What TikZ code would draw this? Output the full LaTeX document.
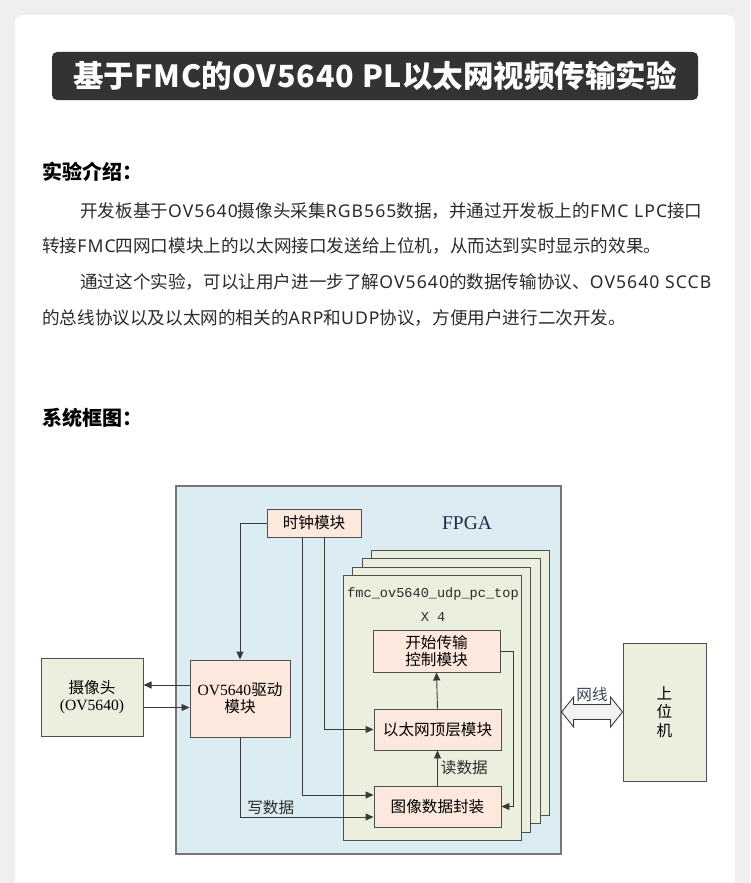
\documentclass[tikz,border=0pt]{standalone}
\usepackage{fontspec}
\setmainfont{Noto Sans CJK SC}
\newfontfamily\lat{Noto Sans}[LetterSpace=6]
\newcommand\wide[1]{{\addfontfeature{LetterSpace=3}#1}}
\newfontfamily\serifl{Liberation Serif}
\newfontfamily\monol{Liberation Mono}
\usetikzlibrary{arrows.meta,calc}

\definecolor{pagegray}{HTML}{EFEFEF}
\definecolor{barcol}{HTML}{333333}
\definecolor{textgray}{HTML}{2B2B2B}
\definecolor{fpgafill}{HTML}{DBECF3}
\definecolor{olivefill}{HTML}{EBEFDD}
\definecolor{modfill}{HTML}{FCE8DC}
\definecolor{boxline}{HTML}{4F4F4F}
\definecolor{wireline}{HTML}{3A3A3A}
\definecolor{fpgaline}{HTML}{767676}
\definecolor{navy}{HTML}{1F2B4A}

\begin{document}
\begin{tikzpicture}[x=1pt, y=-1pt,
  txt/.style={inner sep=0pt, text=textgray},
  body/.style={txt, anchor=west, font=\fontsize{17.6pt}{20pt}\selectfont},
  head/.style={txt, anchor=west, text=black, font=\bfseries\fontsize{20pt}{22pt}\selectfont},
  dfont/.style={font=\fontsize{15.6pt}{18pt}\selectfont},
  modbox/.style={draw=boxline, fill=modfill, line width=0.9pt, inner sep=0pt, align=center, dfont},
  outbox/.style={draw=boxline, fill=olivefill, line width=1pt, inner sep=0pt, align=center, dfont},
  stackbox/.style={draw=boxline, fill=olivefill, line width=1pt, minimum width=178pt, minimum height=265pt},
  conn/.style={draw=wireline, line width=0.9pt},
  arr/.style={conn, -{Triangle[length=8pt,width=7pt]}}
]
  \useasboundingbox (0,0) rectangle (750,883);
  \fill[pagegray] (0,0) rectangle (750,883);
  \fill[white, rounded corners=8pt] (15,15) rectangle (735,910);

  % title and text
  \node[fill=barcol, rounded corners=5pt, minimum width=646pt, minimum height=48pt, inner sep=0pt,
        text=white, font=\bfseries\fontsize{30.5pt}{32pt}\selectfont] (title) at (375,76)
        {基于\wide{FMC}的\wide{OV5640 PL}以太网视频传输实验};

  \node[head] (intro) at (42,172) {实验介绍：};
  \node[body] (line1) at (80,211) {开发板基于{\lat OV5640}摄像头采集{\lat RGB565}数据，并通过开发板上的{\lat FMC LPC}接口};
  \node[body] (line2) at (42,246) {转接{\lat FMC}四网口模块上的以太网接口发送给上位机，从而达到实时显示的效果。};
  \node[body] (line3) at (80,282) {通过这个实验，可以让用户进一步了解{\lat OV5640}的数据传输协议、{\lat OV5640 SCCB}};
  \node[body] (line4) at (42,318) {的总线协议以及以太网的相关的{\lat ARP}和{\lat UDP}协议，方便用户进行二次开发。};

  \node[head] (sys) at (42,418) {系统框图：};

  % diagram
  \node[draw=fpgaline, fill=fpgafill, line width=1.3pt, minimum width=385pt, minimum height=368pt] (fpga) at (368.5,670) {};
  \node[txt, text=navy, font=\serifl\fontsize{19.5pt}{20pt}\selectfont] (fpgalbl) at (467,523) {FPGA};

  \node[modbox, minimum width=94pt, minimum height=28pt] (clock) at (314,523) {时钟模块};

  \foreach \dx/\dy [count=\i] in {28/-25, 19/-17, 9/-8} {
    \node[stackbox] (back\i) at (432+\dx,707.5+\dy) {};
  }
  \node[stackbox] (top) at (432,707.5) {};
  \node[txt, font=\monol\fontsize{13.6pt}{14pt}\selectfont] (toplbl) at (433,594) {fmc\_ov5640\_udp\_pc\_top};
  \node[txt, font=\monol\fontsize{13.6pt}{14pt}\selectfont] (toplbl2) at (433,617) {X 4};

  \node[modbox, minimum width=127pt, minimum height=42pt] (start) at (436.5,651) {开始传输\\[-1pt]控制模块};
  \node[modbox, minimum width=127pt, minimum height=41pt] (eth) at (437.5,729.5) {以太网顶层模块};
  \node[modbox, minimum width=127pt, minimum height=41pt] (pack) at (437.5,806.5) {图像数据封装};

  \node[outbox, minimum width=102pt, minimum height=78pt] (cam) at (92,697) {摄像头\\[-1pt]{\serifl (OV5640)}};
  \node[modbox, minimum width=100pt, minimum height=77pt] (drv) at (240,698.5) {{\serifl OV5640}驱动\\[-1pt]模块};
  \node[outbox, minimum width=83pt, minimum height=138pt] (host) at (664.5,712) {上\\[0.5pt]位\\[0.5pt]机};

  % connectors
  \draw[arr] (clock.west) -| (drv.north);
  \draw[arr] ([yshift=13.5pt]drv.west) -- ([yshift=13.5pt]drv.west -| cam.east);
  \draw[arr] ([yshift=-10.5pt]cam.east) -- ([yshift=-10.5pt]cam.east -| drv.west);
  \draw[arr] ([xshift=10pt]clock.south) |- (eth.west);
  \draw[arr] ([xshift=-12pt]clock.south) |- ([yshift=11.5pt]pack.west);
  \draw[arr] (drv.south) |- ([yshift=-10.5pt]pack.west)
    node[txt, pos=0.615, above=1.5pt, dfont] (wlbl) {写数据};
  \draw[arr] (eth.north) -- (start.south);
  \draw[arr] (pack.north) -- (eth.south)
    node[txt, midway, right=3pt, dfont] (rlbl) {读数据};
  \draw[arr] (start.east) -- ++(13,0) |- (pack.east);

  % network cable
  \coordinate (wl) at (fpga.east |- host.west);
  \coordinate (wr) at (host.west);
  \draw[draw=wireline, fill=pagegray!80, line width=0.9pt]
    (wl) -- ($(wl)+(12,-15)$) -- ($(wl)+(12,-7.5)$) -- ($(wr)+(-12,-7.5)$) -- ($(wr)+(-12,-15)$)
    -- (wr) -- ($(wr)+(-12,15)$) -- ($(wr)+(-12,7.5)$) -- ($(wl)+(12,7.5)$) -- ($(wl)+(12,15)$) -- cycle;
  \node[txt, text=navy!70!gray, dfont] (cable) at ($(wl)!0.5!(wr)+(0,-17)$) {网线};
\end{tikzpicture}
\end{document}
